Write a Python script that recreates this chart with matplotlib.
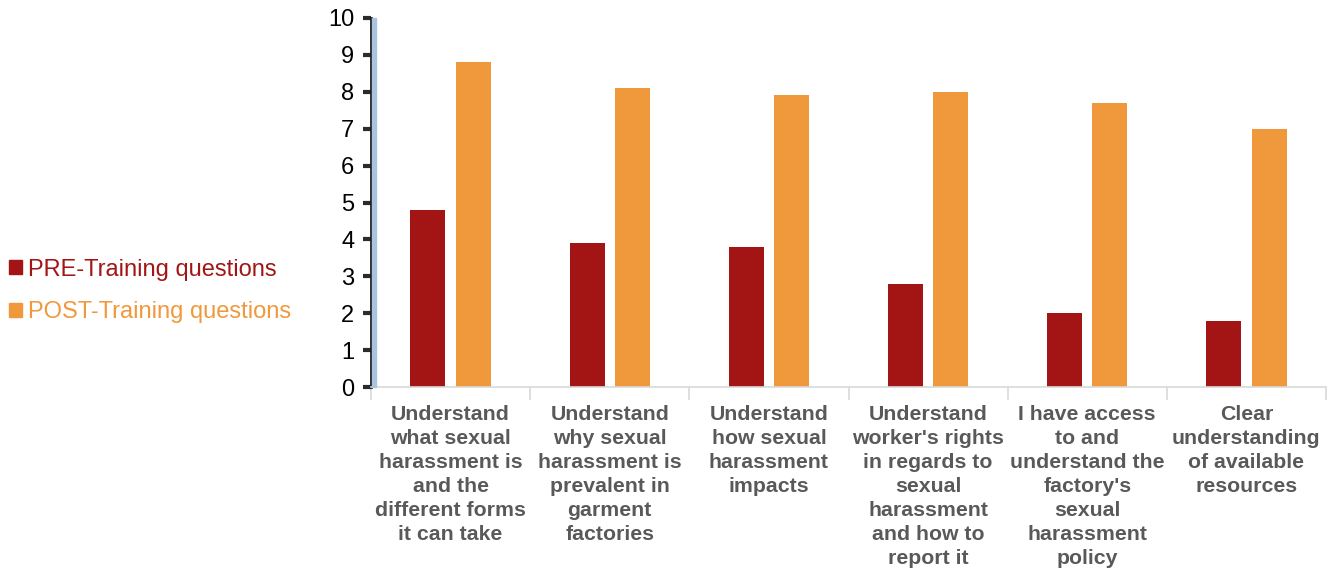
import numpy as np
import matplotlib
matplotlib.use("Agg")
import matplotlib.pyplot as plt
from matplotlib.patches import Patch, Rectangle

plt.rcParams["font.family"] = ["Liberation Sans", "DejaVu Sans"]

# ---------------------------------------------------------------------
# Data
# ---------------------------------------------------------------------

CATEGORIES = [
    "Understand\nwhat sexual\nharassment is\nand the\ndifferent forms\nit can take",
    "Understand\nwhy sexual\nharassment is\nprevalent in\ngarment\nfactories",
    "Understand\nhow sexual\nharassment\nimpacts",
    "Understand\nworker's rights\nin regards to\nsexual\nharassment\nand how to\nreport it",
    "I have access\nto and\nunderstand the\nfactory's\nsexual\nharassment\npolicy",
    "Clear\nunderstanding\nof available\nresources",
]
PRE_SCORES = [4.8, 3.9, 3.8, 2.8, 2.0, 1.8]
POST_SCORES = [8.8, 8.1, 7.9, 8.0, 7.7, 7.0]
SERIES_NAMES = ["PRE-Training questions", "POST-Training questions"]

PRE_COLOR = "#A31515"
POST_COLOR = "#F0993C"

# ---------------------------------------------------------------------
# Plot
# ---------------------------------------------------------------------

W, H = 1334, 575
fig = plt.figure(figsize=(W / 100, H / 100), dpi=100)
ax = fig.add_axes([371 / W, 188 / H, 955 / W, 369 / H])

x = np.arange(len(CATEGORIES))
width = 0.22
ax.bar(x - 0.142, PRE_SCORES, width, color=PRE_COLOR)
ax.bar(x + 0.142, POST_SCORES, width, color=POST_COLOR)

ax.set_xlim(-0.5, len(CATEGORIES) - 0.5)
ax.set_ylim(0, 10)
ax.set_yticks(range(0, 11))
ax.tick_params(axis="y", labelsize=17, length=6, width=3, color="#2B2B2B",
               pad=6, labelcolor="black")

ax.set_xticks(x)
ax.set_xticklabels(CATEGORIES, fontsize=15.3, fontweight="bold",
                   color="#595959")
for lbl in ax.get_xticklabels():
    lbl.set_linespacing(1.33)
ax.tick_params(axis="x", length=0, pad=13)
ax.set_xticks(np.arange(-0.5, len(CATEGORIES)), minor=True)
ax.tick_params(axis="x", which="minor", length=9, color="#D9D9D9", width=1.2)

for s in ["top", "right"]:
    ax.spines[s].set_visible(False)
ax.spines["bottom"].set_color("#D9D9D9")
ax.spines["bottom"].set_linewidth(1.2)
ax.spines["left"].set_color("#1F1F1F")
ax.spines["left"].set_linewidth(2)

# light blue edge next to the dark axis line
fig.patches.append(Rectangle((372.4 / W, 188 / H), 3.6 / W, 369 / H,
                             transform=fig.transFigure, color="#A9C4E0",
                             zorder=5))

handles = [Patch(color=PRE_COLOR), Patch(color=POST_COLOR)]
leg = fig.legend(handles, SERIES_NAMES, loc="center left",
                 bbox_to_anchor=(-0.009, 0.494), frameon=False, fontsize=17,
                 handlelength=0.55, handleheight=0.55, handletextpad=0.25,
                 labelspacing=0.87, labelcolor=[PRE_COLOR, POST_COLOR])

fig.savefig("out.png", dpi=100)
